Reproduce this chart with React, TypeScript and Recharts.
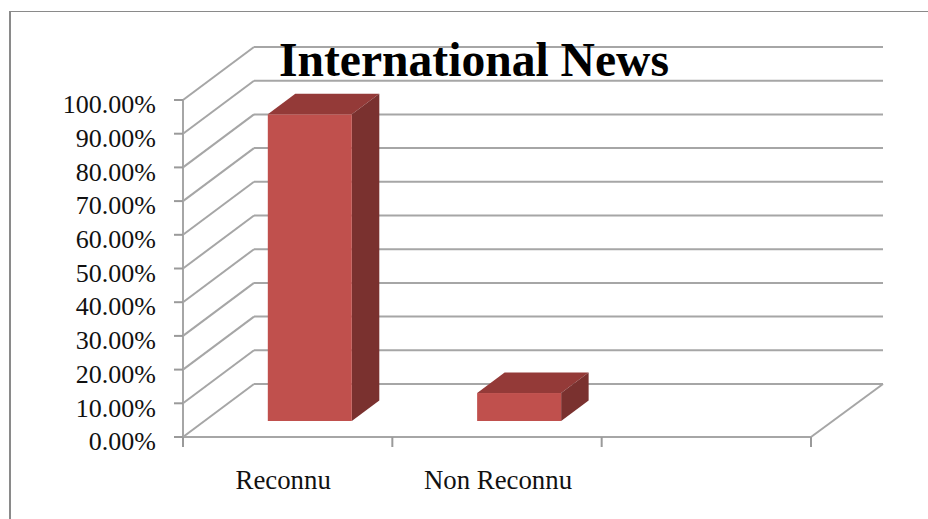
import React from "react";
import { BarChart, Bar, XAxis, YAxis, CartesianGrid } from "recharts";

const categories = ["Reconnu", "Non Reconnu", ""];
const shares: (number | null)[] = [91, 8.3, null];
const percentTicks = [0, 10, 20, 30, 40, 50, 60, 70, 80, 90, 100];
const chartTitle = "International News";

const rows = categories.map((name, i) => ({ name, share: shares[i] }));

const SERIF = "'Liberation Serif', 'Times New Roman', serif";
const GRID = "#a6a6a6";
const INK = "#111111";

// Oblique projection of the back wall and of the bars standing on the floor.
const WALL_DX = 71;
const WALL_DY = -53;
const BAR_DX = 22;
const BAR_DY = -16;
const BAR_DEPTH_DX = 27.5;
const BAR_DEPTH_DY = -20.5;

// Horizontal nudge for each category label, relative to its band centre.
const LABEL_NUDGE = [-4.5, 1, 0];

function WallLine(props: any) {
  const { x1, x2, y1, index } = props;
  const isFloor = index === 0 || y1 > 430;
  const backY = y1 + WALL_DY;
  const common = { stroke: GRID, strokeWidth: 2, fill: "none" };
  return (
    <g key={`wall-${index}`}>
      <line x1={x1} y1={y1} x2={x1 + WALL_DX} y2={backY} {...common} />
      <line x1={x1 + WALL_DX} y1={backY} x2={x2 + WALL_DX + 1} y2={backY} {...common} />
      {isFloor && <line x1={x2} y1={y1} x2={x2 + WALL_DX + 1} y2={backY} {...common} />}
    </g>
  );
}

function Box(props: any) {
  const { x, y, width, height } = props;
  if (height == null || height <= 0) return null;
  const l = x + BAR_DX;
  const r = l + width;
  const t = y + BAR_DY;
  const b = t + height;
  const dx = BAR_DEPTH_DX;
  const dy = BAR_DEPTH_DY;
  return (
    <g>
      <polygon points={`${l},${t} ${r},${t} ${r + dx},${t + dy} ${l + dx},${t + dy}`} fill="#943a38" />
      <polygon points={`${r},${t} ${r + dx},${t + dy} ${r + dx},${b + dy} ${r},${b}`} fill="#7a312f" />
      <rect x={l} y={t} width={width} height={height} fill="#c0504d" />
    </g>
  );
}

// Category labels sit mid-band while the tick marks fall on the band edges.
function CategoryTick(props: any) {
  const { x, payload, index } = props;
  const half = payload.offset ?? 104.7;
  const top = 437;
  const mark = { stroke: "#9a9a9a", strokeWidth: 2 };
  return (
    <g>
      <line x1={x - half} y1={top} x2={x - half} y2={top + 10} {...mark} />
      {index === categories.length - 1 && (
        <line x1={x + half} y1={top} x2={x + half} y2={top + 10} {...mark} />
      )}
      <text
        x={x + (LABEL_NUDGE[index] ?? 0)}
        y={489}
        textAnchor="middle"
        fontFamily={SERIF}
        fontSize={26.8}
        fill={INK}
      >
        {payload.value}
      </text>
    </g>
  );
}

export default function App() {
  return (
    <div style={{ position: "absolute", left: 0, top: 0, width: 928, height: 519, background: "#fff", overflow: "hidden" }}>
      <div
        style={{
          position: "absolute",
          left: 9,
          top: 11,
          width: 928,
          height: 519,
          borderLeft: "2px solid #8a8a8a",
          borderTop: "1.5px solid #8a8a8a",
        }}
      />
      <div style={{ position: "absolute", left: 0, top: 0 }}>
        <BarChart
          width={928}
          height={519}
          data={rows}
          margin={{ top: 100, right: 117, bottom: 0, left: 0 }}
          barCategoryGap="30%"
        >
          <CartesianGrid vertical={false} horizontal={WallLine as any} />
          <YAxis
            type="number"
            width={183}
            domain={[0, 100]}
            ticks={percentTicks}
            interval={0}
            tickFormatter={(v: number) => `${v.toFixed(2)}%`}
            tickSize={9}
            tickMargin={18}
            axisLine={{ stroke: GRID, strokeWidth: 2 }}
            tickLine={{ stroke: "#9a9a9a", strokeWidth: 2 }}
            tick={{ fontFamily: SERIF, fontSize: 26, fill: INK, dy: 4 }}
          />
          <XAxis
            dataKey="name"
            height={82}
            interval={0}
            tickLine={false}
            axisLine={{ stroke: GRID, strokeWidth: 2 }}
            tick={CategoryTick as any}
          />
          <Bar dataKey="share" isAnimationActive={false} shape={Box as any} />
          <text
            x={474}
            y={76}
            textAnchor="middle"
            fontFamily={SERIF}
            fontWeight="bold"
            fontSize={47.6}
            fill="#000"
          >
            {chartTitle}
          </text>
        </BarChart>
      </div>
    </div>
  );
}
